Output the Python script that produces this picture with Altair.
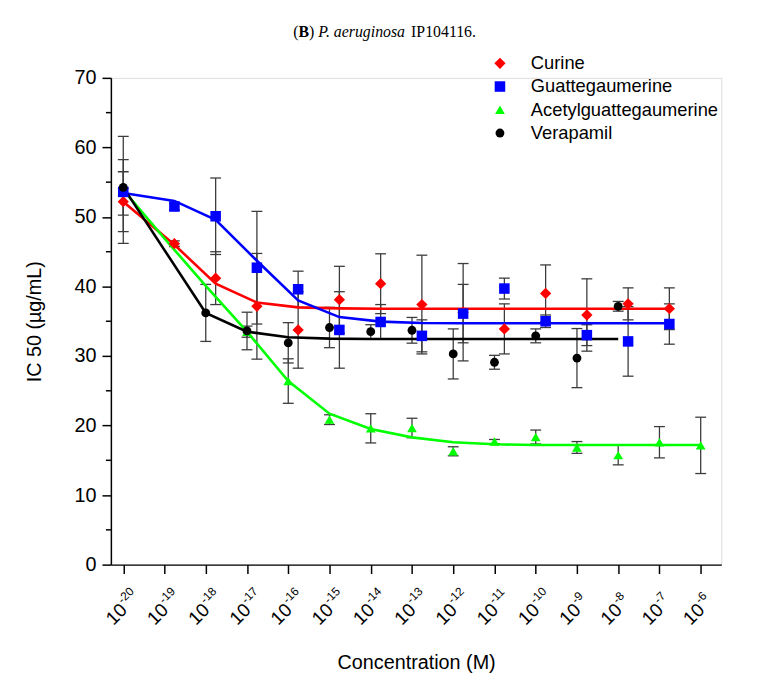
import altair as alt
import pandas as pd

# ---------------- data ----------------
series_names = ["Curine", "Guattegaumerine", "Acetylguattegaumerine", "Verapamil"]
series_colors = ["#ff0000", "#0000ff", "#00ff00", "#000000"]
series_shapes = ["diamond", "square", "triangle-up", "circle"]
series_sizes = [130, 80, 95, 95]

decades = [-20, -19, -18, -17, -16, -15, -14, -13, -12, -11, -10, -9, -8, -7, -6]
tick_base = ["10"] * 15
tick_exp = ["-20", "-19", "-18", "-17", "-16", "-15", "-14", "-13", "-12",
            "-11", "-10", "-9", "-8", "-7", "-6"]
y_major = [0, 10, 20, 30, 40, 50, 60, 70]
y_minor = [5, 15, 25, 35, 45, 55, 65]

curine_x = [-20, -18.76, -17.76, -16.76, -15.76, -14.76, -13.76, -12.76, -11.76,
            -10.76, -9.76, -8.76, -7.76, -6.76]
curine_y = [52.2, 46.15, 41.2, 37.15, 33.75, 38.1, 40.4, 37.4, 36.3, 33.9, 39.0,
            35.9, 37.5, 36.8]
curine_err = [4.3, 0.4, 3.8, 7.6, 5.5, 4.8, 4.3, 7.1, 7.0, 3.6, 4.1, 5.2, 2.3, 3.0]
curine_fit = [52.2, 46.0, 40.4, 37.7, 37.0, 36.85, 36.8, 36.8, 36.8, 36.8, 36.8,
              36.8, 36.8, 36.8]

guatt_x = [-20, -18.76, -17.76, -16.76, -15.76, -14.76, -13.76, -12.76, -11.76,
           -10.76, -9.76, -8.76, -7.76, -6.76]
guatt_y = [53.6, 51.5, 50.1, 42.7, 39.6, 33.75, 34.9, 32.9, 36.1, 39.7, 35.0,
           33.0, 32.1, 34.6]
guatt_err = [0.5, 0.5, 5.5, 8.1, 2.6, 5.5, 2.5, 2.3, 4.2, 1.5, 0.9, 1.5, 5.0, 2.9]
guatt_fit = [53.45, 52.3, 49.6, 43.7, 38.0, 35.6, 34.95, 34.75, 34.7, 34.7, 34.7,
             34.7, 34.7, 34.7]

acetyl_x = [-20, -17, -16, -15, -14, -13, -12, -11, -10, -9, -8, -7, -6]
acetyl_y = [53.9, 33.5, 26.4, 20.85, 19.6, 19.65, 16.3, 17.7, 18.35, 16.85, 15.75,
            17.6, 17.15]
acetyl_err = [7.7, 0.8, 3.2, 0.7, 2.1, 1.4, 0.65, 0.3, 1.0, 0.85, 1.4, 2.25, 4.05]
acetyl_fit_x = [-20, -19, -18, -17, -16, -15, -14, -13, -12, -11, -10, -9, -8, -7, -6]
acetyl_fit = [53.9, 46.9, 40.1, 33.5, 26.4, 21.7, 19.5, 18.3, 17.6, 17.3, 17.2,
              17.2, 17.2, 17.2, 17.2]

vera_x = [-20, -18, -17, -16, -15, -14, -13, -12, -11, -10, -9, -8]
vera_y = [54.25, 36.2, 33.6, 31.9, 34.1, 33.5, 33.7, 30.3, 29.1, 32.9, 29.7, 37.15]
vera_err = [4.0, 4.1, 2.7, 2.9, 2.9, 1.0, 1.85, 3.6, 1.0, 1.0, 4.25, 0.7]
vera_fit = [54.25, 36.2, 33.5, 32.7, 32.5, 32.45, 32.45, 32.45, 32.45, 32.45,
            32.45, 32.45]

# ---------------- tables ----------------
pts = []
fits = []
for name, xs, ys, es in [
    ("Curine", curine_x, curine_y, curine_err),
    ("Guattegaumerine", guatt_x, guatt_y, guatt_err),
    ("Acetylguattegaumerine", acetyl_x, acetyl_y, acetyl_err),
    ("Verapamil", vera_x, vera_y, vera_err),
]:
    for x, y, e in zip(xs, ys, es):
        pts.append({"series": name, "x": x, "y": y, "lo": y - e, "hi": y + e,
                    "ord": {"Acetylguattegaumerine": 0, "Curine": 1,
                            "Guattegaumerine": 2, "Verapamil": 3}[name]})
for name, xs, fs in [
    ("Curine", curine_x, curine_fit),
    ("Guattegaumerine", guatt_x, guatt_fit),
    ("Acetylguattegaumerine", acetyl_fit_x, acetyl_fit),
    ("Verapamil", vera_x, vera_fit),
]:
    col = series_colors[series_names.index(name)]
    for x, f in zip(xs, fs):
        fits.append({"series": name, "x": x, "fit": f, "col": col})

df_pts = pd.DataFrame(pts)
df_fit = pd.DataFrame(fits)
df_caps = pd.concat([
    df_pts[["series", "x", "lo"]].rename(columns={"lo": "c"}),
    df_pts[["series", "x", "hi"]].rename(columns={"hi": "c"}),
])
df_ticks = pd.DataFrame({"x": decades, "base": tick_base, "exp": tick_exp})
df_minor = pd.DataFrame({"m": y_minor})

# ---------------- layout ----------------
W, H = 617, 492
SANS = "Liberation Sans"
SERIF = "Liberation Serif"
AXIS_C = "#000000"
ERR_C = "#3c3c3c"

xscale = alt.Scale(domain=[-20.3, -5.5], nice=False, zero=False)
yscale = alt.Scale(domain=[0, 70], nice=False, zero=True)

x_axis = alt.Axis(values=decades, labels=False, ticks=True, tickSize=9,
                  tickWidth=1.5, tickColor=AXIS_C, domainColor=AXIS_C,
                  domainWidth=1.5, grid=False, title="Concentration (M)",
                  titleFont=SANS, titleFontSize=20, titleFontWeight="normal",
                  titleColor="#000000", titlePadding=79)
y_axis = alt.Axis(values=y_major, tickSize=9, tickWidth=1.5, tickColor=AXIS_C,
                  domainColor=AXIS_C, domainWidth=1.5, grid=False,
                  labelFont=SANS, labelFontSize=20, labelColor="#000000",
                  labelPadding=6, title="IC 50 (µg/mL)", titleFont=SANS,
                  titleFontSize=20, titleFontWeight="normal",
                  titleColor="#000000", titlePadding=30)


def X(field):
    return alt.X(field, type="quantitative", scale=xscale, axis=x_axis)


def Y(field):
    return alt.Y(field, type="quantitative", scale=yscale, axis=y_axis)


err = alt.Chart(df_pts).mark_rule(color=ERR_C, strokeWidth=1.3).encode(
    x=X("x"), y=Y("lo"), y2="hi")
caps = alt.Chart(df_caps).mark_tick(orient="horizontal", size=11, thickness=1.3,
                                    color=ERR_C, opacity=1).encode(x=X("x"), y=Y("c"))
lines = alt.Chart(df_fit).mark_line(strokeWidth=2.6).encode(
    x=X("x"), y=Y("fit"), detail="series:N", color=alt.Color("col:N", scale=None))
markers = alt.Chart(df_pts).mark_point(filled=True, opacity=1,
                                       strokeWidth=0).encode(
    x=X("x"), y=Y("y"),
    color=alt.Color("series:N", sort=series_names,
                    scale=alt.Scale(domain=series_names, range=series_colors),
                    legend=alt.Legend(title=None, orient="none", legendX=384,
                                      legendY=-24, labelFont=SANS,
                                      labelFontSize=18.5, labelColor="#000000",
                                      symbolSize=40, labelOffset=22,
                                      rowPadding=4.5, padding=0, labelLimit=0,
                                      symbolStrokeWidth=0)),
    shape=alt.Shape("series:N", sort=series_names,
                    scale=alt.Scale(domain=series_names, range=series_shapes)),
    size=alt.Size("series:N", sort=series_names,
                  scale=alt.Scale(domain=series_names, range=series_sizes),
                  legend=None),
    order=alt.Order("ord:Q"),
)

minor = alt.Chart(df_minor).mark_rule(color=AXIS_C, strokeWidth=1.5).encode(
    y=Y("m"), x=alt.value(-5), x2=alt.value(0))

lab_base = alt.Chart(df_ticks).mark_text(
    angle=315, align="right", baseline="alphabetic", font=SANS, fontSize=19,
    color="#000000", dx=3.5, dy=3.5).encode(
    x=X("x"), y=alt.value(H + 47), text="base:N")
lab_exp = alt.Chart(df_ticks).mark_text(
    angle=315, align="left", baseline="alphabetic", font=SANS, fontSize=12,
    color="#000000", dx=4.5, dy=-5.5).encode(
    x=X("x"), y=alt.value(H + 47), text="exp:N")

# title with mixed styles
fs = 16
segs = [("(", "normal", "normal", 0.333), ("B", "bold", "normal", 0.667),
        (")", "normal", "normal", 0.333 + 0.25),
        ("P. aeruginosa", "normal", "italic", 5.611 + 0.25),
        ("IP104116.", "normal", "normal", 4.139)]
total = sum(s[3] for s in segs) * fs
cx = 389 - 112
start = cx - total / 2
title_layers = []
pos = start
for txt, wt, st, w in segs:
    title_layers.append(
        alt.Chart(pd.DataFrame({"t": [txt]})).mark_text(
            align="left", baseline="alphabetic", font=SERIF, fontSize=fs,
            fontWeight=wt, fontStyle=st, color="#000000").encode(
            x=alt.value(pos), y=alt.value(-41), text="t:N"))
    pos += w * fs

chart = alt.layer(err, caps, lines, markers, minor, lab_base, lab_exp,
                  *title_layers).properties(
    width=W, height=H,
    autosize=alt.AutoSizeParams(type="none"),
    padding={"left": 104, "top": 67, "right": 30, "bottom": 114},
).configure_view(stroke=None).configure(background="#ffffff")

chart.save("out.html", embed_options={"renderer": "svg", "actions": False})
